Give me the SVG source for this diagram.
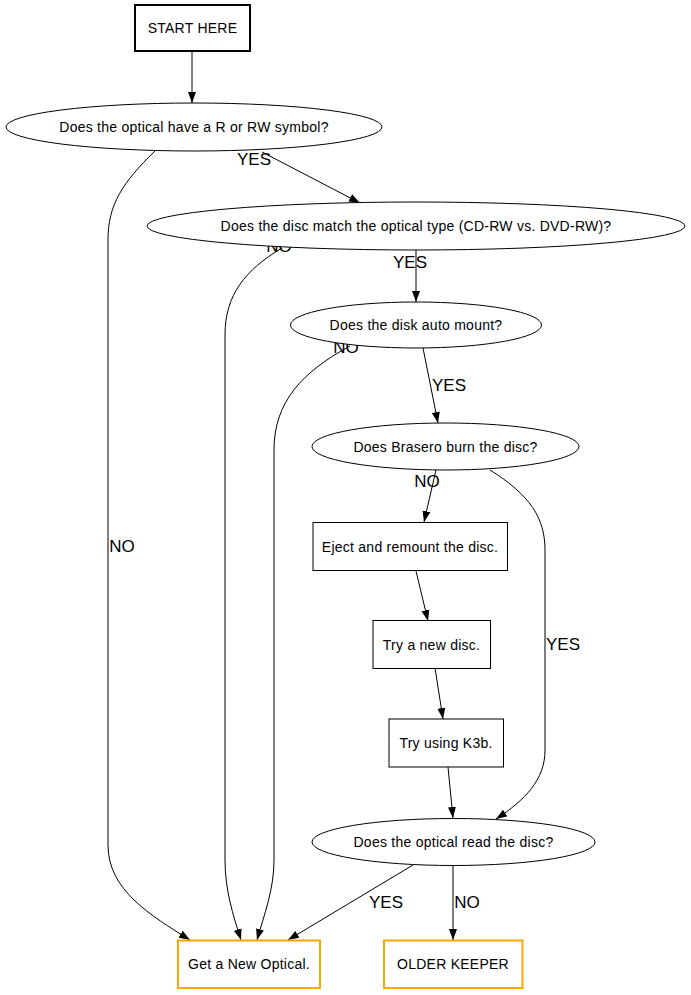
<svg xmlns="http://www.w3.org/2000/svg" width="691" height="995" viewBox="0 0 691 995">
<style>
  .n { fill: #ffffff; stroke: #000000; stroke-width: 1; }
  .start { fill: #ffffff; stroke: #000000; stroke-width: 2; }
  .end { fill: #ffffff; stroke: #ffa500; stroke-width: 2; }
  .t { font-family: "Liberation Sans", Arial, sans-serif; font-size: 14px; letter-spacing: 0.25px; fill: #000000; text-anchor: middle; }
  .lbl { font-family: "Liberation Sans", Arial, sans-serif; font-size: 17px; fill: #000000; text-anchor: middle; }
  .e { fill: none; stroke: #000000; stroke-width: 1; marker-end: url(#arr); }
</style>
<defs>
  <marker id="arr" markerUnits="userSpaceOnUse" markerWidth="11" markerHeight="9" refX="11" refY="4.5" orient="auto">
    <path d="M0,0.5 L11,4.5 L0,8.5 z" fill="#000000" stroke="none"/>
  </marker>
</defs>
<rect width="691" height="995" fill="#ffffff"/>
<g id="edges">
  <path class="e" d="M192,51 L192,103"/>
  <path class="e" d="M262,152 L360,203"/>
  <path class="e" d="M155,151 C122,183 108,205 108,240 L108,845 C108,890 150,915 190,940"/>
  <path class="e" d="M282,248 C245,270 225,295 225,335 L225,860 C225,890 233,915 241,940"/>
  <path class="e" d="M416,249 L416,302"/>
  <path class="e" d="M350,346 C302,372 274,402 274,450 L274,860 C274,890 264,915 257,940"/>
  <path class="e" d="M423,348 L438,423"/>
  <path class="e" d="M436,470 L424,522"/>
  <path class="e" d="M490,470 C530,495 545,518 545,550 L545,750 C545,780 525,800 496,819"/>
  <path class="e" d="M416,571 L428,621"/>
  <path class="e" d="M435,668 L443,719"/>
  <path class="e" d="M448,767 L453,818"/>
  <path class="e" d="M413,865 L288,940"/>
  <path class="e" d="M453,865 L453,940"/>
  <text class="lbl" x="254" y="165">YES</text>
  <text class="lbl" x="122" y="552">NO</text>
  <text class="lbl" x="279" y="252">NO</text>
  <text class="lbl" x="410" y="268">YES</text>
  <text class="lbl" x="346" y="353">NO</text>
  <text class="lbl" x="449" y="391">YES</text>
  <text class="lbl" x="427" y="487">NO</text>
  <text class="lbl" x="563" y="650">YES</text>
  <text class="lbl" x="386" y="908">YES</text>
  <text class="lbl" x="467" y="908">NO</text>
</g>
<g id="start">
  <rect class="start" x="135" y="5" width="115" height="46"/>
  <text class="t" x="192.5" y="33">START HERE</text>
</g>
<g id="q_symbol">
  <ellipse class="n" cx="194" cy="127" rx="188" ry="24"/>
  <text class="t" x="194" y="132">Does the optical have a R or RW symbol?</text>
</g>
<g id="q_match">
  <ellipse class="n" cx="416" cy="226" rx="269" ry="24"/>
  <text class="t" x="416" y="231">Does the disc match the optical type (CD-RW vs. DVD-RW)?</text>
</g>
<g id="q_mount">
  <ellipse class="n" cx="416" cy="325" rx="125.5" ry="23"/>
  <text class="t" x="416" y="330">Does the disk auto mount?</text>
</g>
<g id="q_burn">
  <ellipse class="n" cx="445.5" cy="446.5" rx="133.5" ry="23.5"/>
  <text class="t" x="445.5" y="451.5">Does Brasero burn the disc?</text>
</g>
<g id="eject">
  <rect class="n" x="313" y="522.5" width="194.5" height="48"/>
  <text class="t" x="410" y="551.5">Eject and remount the disc.</text>
</g>
<g id="newdisc">
  <rect class="n" x="373" y="620.5" width="117.5" height="48"/>
  <text class="t" x="431.5" y="649.5">Try a new disc.</text>
</g>
<g id="k3b">
  <rect class="n" x="389" y="719" width="114.5" height="48"/>
  <text class="t" x="446" y="748">Try using K3b.</text>
</g>
<g id="q_read">
  <ellipse class="n" cx="453.5" cy="842" rx="141.5" ry="23.5"/>
  <text class="t" x="453.5" y="847">Does the optical read the disc?</text>
</g>
<g id="new_optical">
  <rect class="end" x="178" y="940.5" width="142" height="47.5"/>
  <text class="t" x="249" y="969">Get a New Optical.</text>
</g>
<g id="older_keeper">
  <rect class="end" x="384" y="940.5" width="138.5" height="47.5"/>
  <text class="t" x="453" y="969">OLDER KEEPER</text>
</g>
</svg>
